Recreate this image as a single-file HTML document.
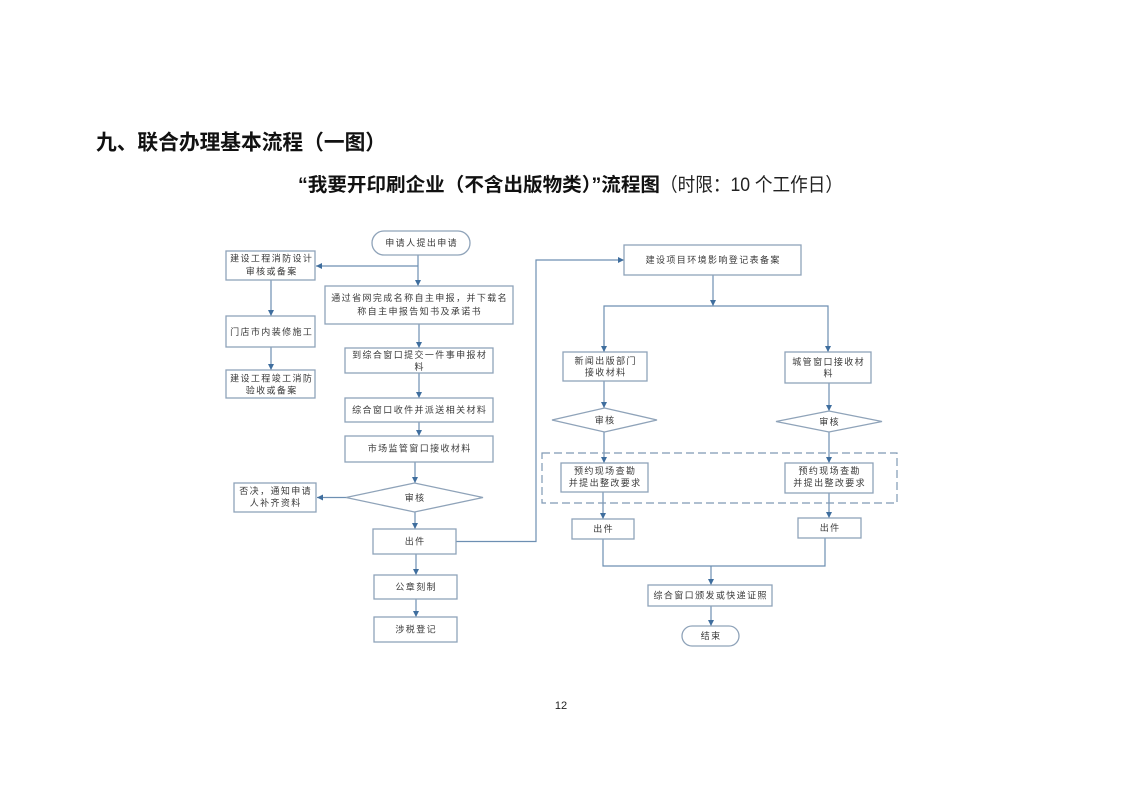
<!DOCTYPE html>
<html><head><meta charset="utf-8"><style>
html,body{margin:0;padding:0;background:#fff;}
svg{display:block;}
.b{fill:#fff;stroke:#8fa3b9;stroke-width:1.3;}
.l{fill:none;stroke:#6d8fb2;stroke-width:1.2;}
.t{font-family:"Liberation Sans","Noto Sans CJK SC",sans-serif;font-size:9px;fill:#3a3a3a;letter-spacing:1.4px;text-anchor:middle;}
</style></head><body>
<svg width="1122" height="793" viewBox="0 0 1122 793" xmlns="http://www.w3.org/2000/svg">
<defs>
<marker id="a" markerUnits="userSpaceOnUse" markerWidth="8" markerHeight="8" refX="6" refY="3" orient="auto">
<path d="M0,0 L6,3 L0,6 Z" fill="#3f6e9e"/>
</marker>
</defs>
<rect width="1122" height="793" fill="#fff"/>
<text x="96" y="149.5" textLength="290" lengthAdjust="spacingAndGlyphs" style="font-family:'Liberation Sans','Noto Sans CJK SC',sans-serif;font-size:21px;font-weight:bold;fill:#111;">九、联合办理基本流程（一图）</text>
<text x="298" y="191" textLength="362" lengthAdjust="spacingAndGlyphs" style="font-family:'Liberation Sans','Noto Sans CJK SC',sans-serif;font-size:19px;font-weight:bold;fill:#111;">“我要开印刷企业（不含出版物类）”流程图</text>
<text x="660" y="191" textLength="183" lengthAdjust="spacingAndGlyphs" style="font-family:'Liberation Sans','Noto Sans CJK SC',sans-serif;font-size:19px;fill:#222;">（时限：10 个工作日）</text>
<text x="561" y="709" style="font-family:'Liberation Sans',sans-serif;font-size:11px;fill:#222;text-anchor:middle;">12</text>

<!-- connectors left/center -->
<path class="l" d="M418,255 V286" marker-end="url(#a)"/>
<path class="l" d="M418,266 H316" marker-end="url(#a)"/>
<path class="l" d="M271,280 V316" marker-end="url(#a)"/>
<path class="l" d="M271,347 V370" marker-end="url(#a)"/>
<path class="l" d="M419,324 V348" marker-end="url(#a)"/>
<path class="l" d="M419,373 V398" marker-end="url(#a)"/>
<path class="l" d="M419,422 V436" marker-end="url(#a)"/>
<path class="l" d="M415,462 V483" marker-end="url(#a)"/>
<path class="l" d="M346,497.5 H317" marker-end="url(#a)"/>
<path class="l" d="M415,512 V529" marker-end="url(#a)"/>
<path class="l" d="M416,554 V575" marker-end="url(#a)"/>
<path class="l" d="M416,599 V617" marker-end="url(#a)"/>
<path class="l" d="M456,541.5 H536 V260 H624" marker-end="url(#a)"/>

<!-- connectors right -->
<path class="l" d="M713,275 V306" marker-end="url(#a)"/>
<path class="l" d="M604,352 V306 H828 V352"/>
<path class="l" d="M604,340 V352" marker-end="url(#a)"/>
<path class="l" d="M828,340 V352" marker-end="url(#a)"/>
<path class="l" d="M604,381 V408" marker-end="url(#a)"/>
<path class="l" d="M829,383 V411" marker-end="url(#a)"/>
<path class="l" d="M604,432 V463" marker-end="url(#a)"/>
<path class="l" d="M829,432 V463" marker-end="url(#a)"/>
<path class="l" d="M603,492 V519" marker-end="url(#a)"/>
<path class="l" d="M829,493 V518" marker-end="url(#a)"/>
<path class="l" d="M603,539 V566 H825 V538"/>
<path class="l" d="M711,566 V585" marker-end="url(#a)"/>
<path class="l" d="M711,606 V626" marker-end="url(#a)"/>

<!-- dashed group -->
<rect x="542" y="453" width="355" height="50" fill="none" stroke="#7f99b5" stroke-width="1.2" stroke-dasharray="8,4"/>

<!-- left column boxes -->
<rect class="b" x="226" y="251" width="89" height="29"/>
<text class="t" x="271.7" y="261.5">建设工程消防设计</text>
<text class="t" x="271.7" y="274.3">审核或备案</text>
<rect class="b" x="226" y="316" width="89" height="31"/>
<text class="t" x="271.7" y="334.8">门店市内装修施工</text>
<rect class="b" x="226" y="370" width="89" height="28"/>
<text class="t" x="271.7" y="381.5">建设工程竣工消防</text>
<text class="t" x="271.7" y="393.3">验收或备案</text>

<!-- center column -->
<rect class="b" x="372" y="231" width="98" height="24" rx="12" ry="12"/>
<text class="t" x="421.7" y="246.2">申请人提出申请</text>
<rect class="b" x="325" y="286" width="188" height="38"/>
<text class="t" x="419.7" y="301">通过省网完成名称自主申报，并下载名</text>
<text class="t" x="419.7" y="314.3">称自主申报告知书及承诺书</text>
<rect class="b" x="345" y="348" width="148" height="25"/>
<text class="t" x="419.7" y="358.2">到综合窗口提交一件事申报材</text>
<text class="t" x="419.7" y="369.9">料</text>
<rect class="b" x="345" y="398" width="148" height="24"/>
<text class="t" x="419.7" y="413.2">综合窗口收件并派送相关材料</text>
<rect class="b" x="345" y="436" width="148" height="26"/>
<text class="t" x="419.7" y="451.5">市场监管窗口接收材料</text>
<polygon class="b" points="346,497.5 414.5,483 483,497.5 414.5,512"/>
<text class="t" x="415.2" y="500.8">审核</text>
<rect class="b" x="234" y="483" width="82" height="29"/>
<text class="t" x="275.7" y="494">否决，通知申请</text>
<text class="t" x="275.7" y="506">人补齐资料</text>
<rect class="b" x="373" y="529" width="83" height="25"/>
<text class="t" x="415.2" y="544.7">出件</text>
<rect class="b" x="374" y="575" width="83" height="24"/>
<text class="t" x="416.2" y="590.2">公章刻制</text>
<rect class="b" x="374" y="617" width="83" height="25"/>
<text class="t" x="416.2" y="632.7">涉税登记</text>

<!-- right side -->
<rect class="b" x="624" y="245" width="177" height="30"/>
<text class="t" x="713.2" y="263.2">建设项目环境影响登记表备案</text>
<rect class="b" x="563" y="352" width="84" height="29"/>
<text class="t" x="605.7" y="364.2">新闻出版部门</text>
<text class="t" x="605.7" y="375.5">接收材料</text>
<rect class="b" x="785" y="352" width="86" height="31"/>
<text class="t" x="828.7" y="364.9">城管窗口接收材</text>
<text class="t" x="828.7" y="376.5">料</text>
<polygon class="b" points="552,420 604.5,408 657,420 604.5,432"/>
<text class="t" x="605.2" y="423.3">审核</text>
<polygon class="b" points="776,421.5 829,411 882,421.5 829,432"/>
<text class="t" x="829.7" y="424.8">审核</text>
<rect class="b" x="561" y="463" width="87" height="29"/>
<text class="t" x="605.2" y="473.9">预约现场查勘</text>
<text class="t" x="605.2" y="485.9">并提出整改要求</text>
<rect class="b" x="785" y="463" width="88" height="30"/>
<text class="t" x="829.7" y="473.9">预约现场查勘</text>
<text class="t" x="829.7" y="485.9">并提出整改要求</text>
<rect class="b" x="572" y="519" width="62" height="20"/>
<text class="t" x="603.7" y="532.2">出件</text>
<rect class="b" x="798" y="518" width="63" height="20"/>
<text class="t" x="830.2" y="531.2">出件</text>
<rect class="b" x="648" y="585" width="124" height="21"/>
<text class="t" x="710.7" y="598.7">综合窗口颁发或快递证照</text>
<rect class="b" x="682" y="626" width="57" height="20" rx="10" ry="10"/>
<text class="t" x="711.2" y="639.2">结束</text>
</svg>
</body></html>
